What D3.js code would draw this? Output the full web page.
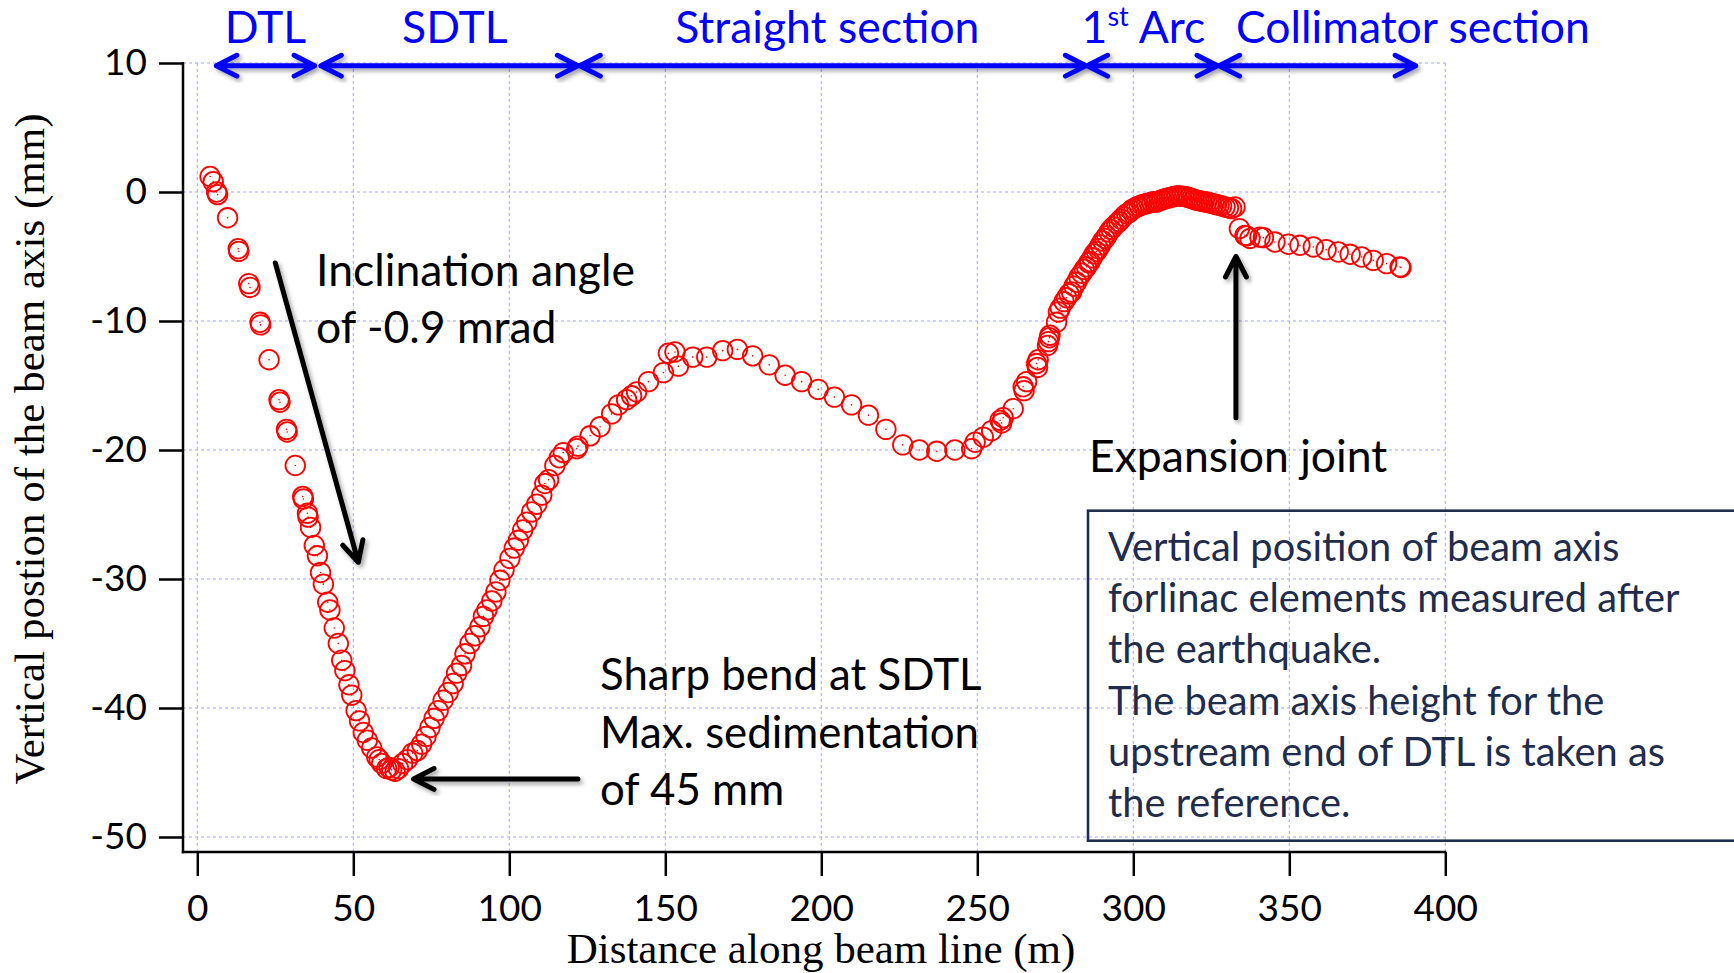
<!DOCTYPE html>
<html>
<head>
<meta charset="utf-8">
<script src="https://cdn.jsdelivr.net/npm/d3@7"></script>
<style>
  html, body { margin: 0; padding: 0; background: #fff; overflow: hidden; }
  svg { display: block; }
</style>
</head>
<body>
<svg id="chart" width="1734" height="973"></svg>
<script>
// Survey of the beam axis: distance along the beam line (m) and vertical position (mm)
const distance = [
  4.1, 5.1, 6.2, 6.5, 9.7, 13.1, 13.3, 16.5, 16.9, 20.1, 20.3, 23.0, 26.2, 26.5, 28.6, 28.8,
  31.4, 33.8, 34.0, 35.3, 35.5, 36.3, 37.5, 38.5, 39.5, 40.4, 41.8, 42.5, 43.9, 45.2, 46.3, 47.3,
  48.6, 49.5, 50.9, 52.0, 53.2, 54.5, 55.9, 57.5, 58.3, 59.1, 60.7, 61.5, 62.3, 63.4, 64.5, 65.8,
  67.3, 69.0, 70.5, 71.9, 73.3, 74.6, 75.9, 77.2, 78.8, 80.4, 82.0, 83.1, 84.7, 85.8, 87.4, 89.0,
  90.6, 91.7, 92.8, 94.4, 95.7, 97.0, 98.3, 100.2, 101.6, 102.9, 104.3, 105.6, 107.2, 108.8, 110.4, 111.4,
  112.6, 114.6, 116.0, 117.3, 121.6, 122.0, 125.9, 129.1, 132.8, 135.0, 137.6, 139.2, 140.8, 144.6, 149.4, 151.0,
  153.1, 154.2, 158.8, 163.3, 168.4, 173.1, 178.0, 183.3, 188.4, 193.7, 199.0, 204.2, 209.7, 215.1, 220.7, 226.1,
  231.4, 237.0, 242.8, 248.2, 249.3, 251.9, 254.6, 257.3, 257.8, 258.3, 261.5, 264.7, 265.0, 265.8, 269.0, 269.3,
  269.5, 272.5, 272.8, 273.1, 273.3, 275.4, 276.0, 276.6, 277.8, 278.6, 279.4, 280.2, 281.0, 281.8, 282.6, 283.5,
  284.3, 285.0, 285.7, 286.1, 286.8, 287.5, 288.2, 288.8, 289.5, 290.2, 290.9, 291.5, 292.2, 292.9, 293.6, 294.7,
  295.4, 296.1, 296.9, 297.9, 298.6, 299.4, 300.2, 301.1, 301.9, 302.7, 303.5, 304.3, 305.1, 305.9, 306.7, 307.5,
  308.3, 309.1, 309.9, 310.7, 311.5, 312.3, 313.1, 313.9, 314.7, 315.5, 316.3, 317.1, 317.9, 318.7, 319.5, 320.3,
  321.1, 321.9, 322.7, 323.5, 324.3, 325.1, 325.9, 326.7, 327.5, 328.3, 329.4, 330.5, 331.5, 332.6, 334.0, 335.8,
  336.3, 337.4, 340.6, 341.7, 345.4, 349.7, 353.4, 357.7, 361.8, 365.7, 369.5, 373.2, 376.9, 381.2, 385.5, 385.8
];
const vertical = [
  1.2, 0.8, 0.0, -0.2, -2.0, -4.4, -4.6, -7.1, -7.4, -10.1, -10.3, -13.0, -16.1, -16.3, -18.4, -18.6,
  -21.2, -23.6, -23.8, -24.9, -25.2, -26.0, -27.4, -28.2, -29.5, -30.4, -31.8, -32.4, -33.8, -35.0, -36.3, -37.1,
  -38.2, -39.0, -40.2, -41.0, -41.9, -42.5, -43.1, -43.8, -44.0, -44.3, -44.7, -44.6, -44.8, -44.9, -44.7, -44.3,
  -44.0, -43.5, -43.3, -42.8, -42.2, -41.5, -40.8, -40.2, -39.4, -38.8, -38.1, -37.3, -36.7, -35.8, -35.0, -34.4,
  -33.7, -32.9, -32.4, -31.7, -31.0, -30.1, -29.3, -28.4, -27.6, -27.0, -26.2, -25.6, -24.8, -24.2, -23.5, -22.6,
  -22.3, -21.2, -20.6, -20.2, -19.9, -19.7, -18.9, -18.2, -17.2, -16.5, -16.1, -15.8, -15.5, -14.7, -14.0, -12.5,
  -12.4, -13.5, -12.8, -12.8, -12.3, -12.2, -12.7, -13.4, -14.2, -14.7, -15.3, -15.9, -16.5, -17.3, -18.4, -19.6,
  -20.0, -20.1, -20.0, -19.9, -19.4, -19.0, -18.5, -17.7, -17.9, -17.5, -16.8, -15.1, -15.4, -14.7, -13.3, -13.6,
  -13.0, -11.9, -11.6, -11.3, -11.1, -10.1, -9.3, -9.0, -8.5, -8.2, -7.9, -7.75, -7.3, -7.0, -6.6, -6.3,
  -6.0, -5.8, -5.5, -5.4, -5.1, -4.8, -4.6, -4.4, -4.1, -3.8, -3.6, -3.4, -3.1, -2.9, -2.7, -2.45,
  -2.3, -2.1, -1.9, -1.7, -1.6, -1.4, -1.3, -1.15, -1.1, -1.0, -0.95, -0.9, -0.85, -0.8, -0.75, -0.78,
  -0.7, -0.62, -0.55, -0.5, -0.45, -0.4, -0.35, -0.3, -0.3, -0.32, -0.35, -0.39, -0.45, -0.5, -0.58, -0.64,
  -0.68, -0.72, -0.75, -0.78, -0.82, -0.88, -0.93, -0.98, -1.02, -1.08, -1.16, -1.22, -1.29, -1.16, -2.84, -3.36,
  -3.4, -3.6, -3.5, -3.54, -3.88, -4.05, -4.13, -4.26, -4.47, -4.65, -4.83, -5.04, -5.3, -5.55, -5.81, -5.85
];

const xTicks = [0, 50, 100, 150, 200, 250, 300, 350, 400];
const yTicks = [10, 0, -10, -20, -30, -40, -50];

// Accelerator sections along the beam line (m)
const sectionNames = ["DTL", "SDTL", "Straight section", "1st Arc", "Collimator section"];
const sectionStart = [6.1, 39.6, 122.6, 285.2, 327.5];
const sectionEnd   = [37.6, 122.0, 284.8, 327.0, 390.5];

const inclinationNote = ["Inclination angle", "of -0.9 mrad"];
const bendNote = ["Sharp bend at SDTL", "Max. sedimentation", "of 45 mm"];
const jointNote = "Expansion joint";
const captionLines = [
  "Vertical position of beam axis",
  "forlinac elements measured after",
  "the earthquake.",
  "The beam axis height for the",
  "upstream end of DTL is taken as",
  "the reference."
];

const xTitle = "Distance along beam line (m)";
const yTitle = "Vertical postion of the beam axis (mm)";

// ---------------------------------------------------------------------------
const svg = d3.select("#chart");
const SANS = "Lato, 'Open Sans', sans-serif";
const SERIF = "'Liberation Serif', 'DejaVu Serif', serif";
const BLUE = "#0000ff";
const NAVY = "#1f2c4c";
const GRID = "#a3a3ff";

const x = d3.scaleLinear().domain([0, 400]).range([197.3, 1445.3]);
const y = d3.scaleLinear().domain([-50, 10]).range([837, 63]);

// axes sit slightly outside the data area
const yAxisX = 183;
const xAxisY = 852;

const defs = svg.append("defs");
const shadow = defs.append("filter").attr("id", "shadow")
  .attr("x", "-30%").attr("y", "-30%").attr("width", "160%").attr("height", "160%");
shadow.append("feDropShadow")
  .attr("dx", 2.5).attr("dy", 3).attr("stdDeviation", 2)
  .attr("flood-color", "#000").attr("flood-opacity", 0.35);

// grid
const grid = svg.append("g").attr("class", "grid")
  .attr("stroke", GRID).attr("stroke-width", 1).attr("stroke-dasharray", "3,3").attr("fill", "none");
grid.selectAll("line.v").data(xTicks).join("line").attr("class", "v")
  .attr("x1", d => x(d)).attr("x2", d => x(d))
  .attr("y1", y(10)).attr("y2", xAxisY);
grid.selectAll("line.h").data(yTicks).join("line").attr("class", "h")
  .attr("x1", yAxisX).attr("x2", x(400))
  .attr("y1", d => y(d)).attr("y2", d => y(d));

// axes
const yAxis = d3.axisLeft(y).tickValues(yTicks).tickSize(24).tickPadding(12)
  .tickFormat(d => String(d));
const gy = svg.append("g").attr("transform", `translate(${yAxisX},0)`).call(yAxis);
gy.select(".domain").remove();
gy.selectAll(".tick line").attr("stroke", "#000").attr("stroke-width", 2.5);
gy.selectAll(".tick text").attr("font-family", SANS).attr("font-size", 37).attr("fill", "#000");

const xAxis = d3.axisBottom(x).tickValues(xTicks).tickSize(24)
  .tickFormat(d => String(d));
const gx = svg.append("g").attr("transform", `translate(0,${xAxisY})`).call(xAxis);
gx.select(".domain").remove();
gx.selectAll(".tick line").attr("stroke", "#000").attr("stroke-width", 2.5);
gx.selectAll(".tick text").attr("font-family", SANS).attr("font-size", 37).attr("fill", "#000")
  .attr("y", 69).attr("dy", 0);

svg.append("line").attr("x1", yAxisX).attr("x2", yAxisX)
  .attr("y1", y(10) - 1).attr("y2", xAxisY + 1.25)
  .attr("stroke", "#000").attr("stroke-width", 2.5);
svg.append("line").attr("x1", yAxisX - 1.25).attr("x2", x(400) + 1)
  .attr("y1", xAxisY).attr("y2", xAxisY)
  .attr("stroke", "#000").attr("stroke-width", 2.5);

// axis titles
svg.append("text").attr("x", 821).attr("y", 963)
  .attr("text-anchor", "middle").attr("font-family", SERIF).attr("font-size", 43)
  .attr("fill", "#000").text(xTitle);
svg.append("text").attr("transform", "translate(44,449) rotate(-90)")
  .attr("text-anchor", "middle").attr("font-family", SERIF).attr("font-size", 43)
  .attr("fill", "#000").text(yTitle);

// measured points
const points = distance.map((d, i) => ({ d, v: vertical[i] }));
const pts = svg.append("g").attr("class", "points");
pts.selectAll("circle.ring").data(points).join("circle").attr("class", "ring")
  .attr("cx", p => x(p.d)).attr("cy", p => y(p.v)).attr("r", 9.8)
  .attr("fill", "none").attr("stroke", "#ff0000").attr("stroke-width", 1.8);
pts.selectAll("circle.dot").data(points).join("circle").attr("class", "dot")
  .attr("cx", p => x(p.d)).attr("cy", p => y(p.v)).attr("r", 0.8)
  .attr("fill", "#ff0000");

// arrow helpers: straight shaft with open chevron heads
function chevron(tipX, tipY, dirX, dirY, len, angleDeg) {
  const a = Math.atan2(-dirY, -dirX);
  const t = angleDeg * Math.PI / 180;
  const p1 = [tipX + len * Math.cos(a + t), tipY + len * Math.sin(a + t)];
  const p2 = [tipX + len * Math.cos(a - t), tipY + len * Math.sin(a - t)];
  return `M${p1[0]},${p1[1]}L${tipX},${tipY}L${p2[0]},${p2[1]}`;
}
function arrow(g, x1, y1, x2, y2, color, both) {
  const dx = x2 - x1, dy = y2 - y1;
  let d = `M${x1},${y1}L${x2},${y2}` + chevron(x2, y2, dx, dy, 23, 27);
  if (both) d += chevron(x1, y1, -dx, -dy, 23, 27);
  g.append("path").attr("d", d).attr("fill", "none").attr("stroke", color)
    .attr("stroke-width", 5).attr("stroke-linecap", "round").attr("stroke-linejoin", "round")
    .attr("filter", "url(#shadow)");
}

// section arrows and labels
const secG = svg.append("g").attr("class", "sections");
const labelAlign = ["middle", "middle", "middle", "start", "start"];
const labelShift = [0, 5.5, -5.5, -5.5, 17];
sectionNames.forEach((name, i) => {
  arrow(secG, x(sectionStart[i]), 65.7, x(sectionEnd[i]), 65.7, BLUE, true);
  const cx = (labelAlign[i] === "middle"
    ? (x(sectionStart[i]) + x(sectionEnd[i])) / 2
    : x(sectionStart[i])) + labelShift[i];
  const t = secG.append("text").attr("x", cx).attr("y", 42.7)
    .attr("text-anchor", labelAlign[i]).attr("font-family", SANS).attr("font-size", 44.5)
    .attr("fill", BLUE);
  const m = name.match(/^(\d+)(st|nd|rd|th)(.*)$/);
  if (m) {
    t.append("tspan").text(m[1]);
    t.append("tspan").attr("font-size", 27).attr("dy", -17).text(m[2]);
    t.append("tspan").attr("dy", 17).text(m[3]);
  } else {
    t.text(name);
  }
});

// annotations
const ann = svg.append("g").attr("class", "annotations");
arrow(ann, x(25.0), y(-5.5), x(51.6), y(-28.7), "#000", false);
arrow(ann, x(122.0), y(-45.5), x(69.3), y(-45.5), "#000", false);
arrow(ann, x(332.9), y(-17.5), x(332.9), y(-5.0), "#000", false);

function block(lines, x0, y0, step, size, color) {
  const t = ann.append("text").attr("font-family", SANS).attr("font-size", size).attr("fill", color);
  lines.forEach((s, i) => t.append("tspan").attr("x", x0).attr("y", y0 + i * step).text(s));
}
block(inclinationNote, 316, 285.7, 57, 44.5, "#000");
block(bendNote, 600, 690, 57.5, 43.8, "#000");
block([jointNote], 1089, 471.7, 0, 44.5, "#000");

// caption box
ann.append("rect").attr("x", 1088).attr("y", 510.7).attr("width", 700).attr("height", 330)
  .attr("fill", "none").attr("stroke", NAVY).attr("stroke-width", 2.6);
block(captionLines, 1108, 561, 51.2, 39.8, NAVY);
</script>
</body>
</html>
